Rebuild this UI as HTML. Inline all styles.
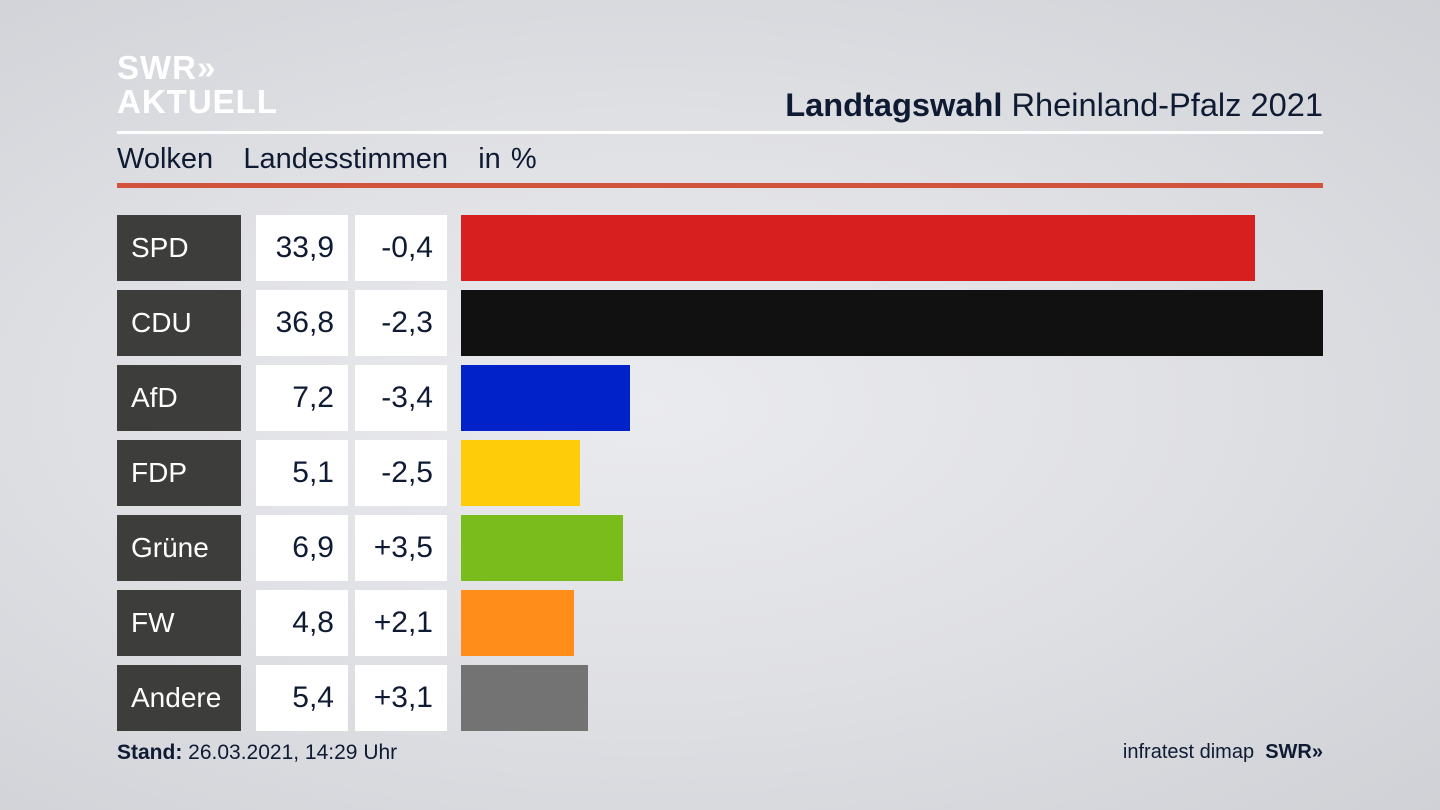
<!DOCTYPE html>
<html><head><meta charset="utf-8"><style>
body{margin:0;width:1440px;height:810px;overflow:hidden;font-family:"Liberation Sans","DejaVu Sans",sans-serif;background:radial-gradient(ellipse at 45% 50%,#eaebee 0%,#dfe0e4 50%,#cfd1d6 100%);position:relative;color:#0f1a33}
.a{position:absolute}
.lbl{background:#3d3d3b;color:#fff;font-size:28px;line-height:66px;padding-left:14px;box-sizing:border-box;width:124px;height:66px;left:117px}
.v{background:#fff;font-size:30px;line-height:66px;text-align:right;padding-right:14px;box-sizing:border-box;height:66px;width:92px}
</style></head><body>
<div class="a" style="left:117px;top:51px;color:#fff;font-weight:bold;font-size:33px;line-height:34px;letter-spacing:1px">SWR&#187;<br>AKTUELL</div>
<div class="a" style="right:117px;top:86px;font-size:32.6px;color:#0f1a33"><b>Landtagswahl</b> Rheinland-Pfalz 2021</div>
<div class="a" style="left:117px;top:131px;width:1206px;height:3px;background:#fff"></div>
<div class="a" style="left:117px;top:143px;font-size:29px;word-spacing:2px">Wolken&nbsp;&nbsp;&nbsp;Landesstimmen&nbsp;&nbsp;&nbsp;in %</div>
<div class="a" style="left:117px;top:183px;width:1206px;height:5px;background:#d2533c"></div>

<div class="a lbl" style="top:215px">SPD</div><div class="a v" style="top:215px;left:256px">33,9</div><div class="a v" style="top:215px;left:355px">-0,4</div><div class="a" style="top:215px;left:461px;width:794px;height:66px;background:#d71f1f"></div>
<div class="a lbl" style="top:290px">CDU</div><div class="a v" style="top:290px;left:256px">36,8</div><div class="a v" style="top:290px;left:355px">-2,3</div><div class="a" style="top:290px;left:461px;width:862px;height:66px;background:#111"></div>
<div class="a lbl" style="top:365px">AfD</div><div class="a v" style="top:365px;left:256px">7,2</div><div class="a v" style="top:365px;left:355px">-3,4</div><div class="a" style="top:365px;left:461px;width:169px;height:66px;background:#0022c8"></div>
<div class="a lbl" style="top:440px">FDP</div><div class="a v" style="top:440px;left:256px">5,1</div><div class="a v" style="top:440px;left:355px">-2,5</div><div class="a" style="top:440px;left:461px;width:119px;height:66px;background:#ffcc0a"></div>
<div class="a lbl" style="top:515px">Grüne</div><div class="a v" style="top:515px;left:256px">6,9</div><div class="a v" style="top:515px;left:355px">+3,5</div><div class="a" style="top:515px;left:461px;width:162px;height:66px;background:#79bc1c"></div>
<div class="a lbl" style="top:590px">FW</div><div class="a v" style="top:590px;left:256px">4,8</div><div class="a v" style="top:590px;left:355px">+2,1</div><div class="a" style="top:590px;left:461px;width:113px;height:66px;background:#ff8d19"></div>
<div class="a lbl" style="top:665px">Andere</div><div class="a v" style="top:665px;left:256px">5,4</div><div class="a v" style="top:665px;left:355px">+3,1</div><div class="a" style="top:665px;left:461px;width:127px;height:66px;background:#737373"></div>

<div class="a" style="left:117px;top:741px;font-size:21px"><b>Stand:</b> 26.03.2021, 14:29 Uhr</div>
<div class="a" style="right:117px;top:741px;font-size:20px">infratest dimap&nbsp;&nbsp;<b>SWR&#187;</b></div>
</body></html>
